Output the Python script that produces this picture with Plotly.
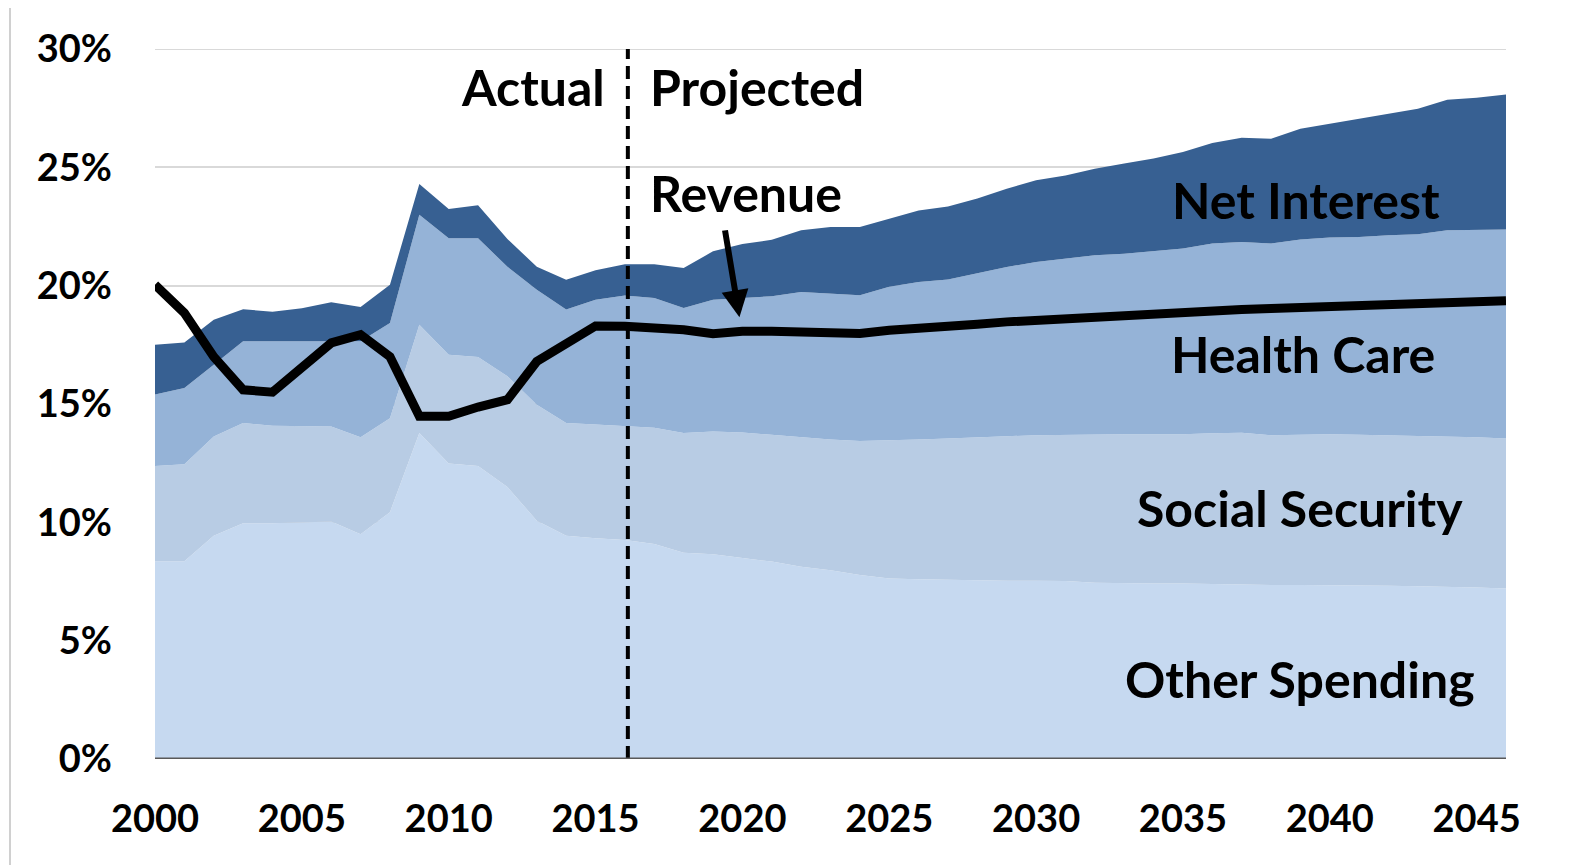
import plotly.graph_objects as go

years = list(range(2000, 2047))

# cumulative tops of each stacked layer (% of GDP)
other_top = [8.36, 8.36, 9.43, 9.96, 9.96, 10.0, 10.03, 9.5, 10.43, 13.77,
             12.49, 12.38, 11.49, 10.07, 9.43, 9.33, 9.25, 9.08, 8.72, 8.65,
             8.5, 8.34, 8.12, 7.98, 7.77, 7.63, 7.59, 7.56, 7.53, 7.53,
             7.53, 7.52, 7.45, 7.42, 7.42, 7.42, 7.39, 7.39, 7.35, 7.35,
             7.35, 7.33, 7.32, 7.3, 7.28, 7.25, 7.2]
ss_top = [12.38, 12.45, 13.63, 14.2, 14.08, 14.05, 14.05, 13.6, 14.4, 18.35,
          17.08, 16.99, 16.17, 14.97, 14.2, 14.13, 14.06, 14.0, 13.77, 13.84,
          13.8, 13.7, 13.6, 13.5, 13.44, 13.46, 13.5, 13.54, 13.6, 13.64,
          13.68, 13.7, 13.7, 13.72, 13.72, 13.72, 13.76, 13.78, 13.68, 13.7,
          13.72, 13.7, 13.68, 13.66, 13.64, 13.6, 13.54]
health_top = [15.4, 15.68, 16.66, 17.65, 17.65, 17.65, 17.65, 17.65, 18.42, 23.0,
              22.0, 22.0, 20.8, 19.83, 18.99, 19.4, 19.58, 19.48, 19.06, 19.4,
              19.48, 19.55, 19.73, 19.66, 19.6, 19.95, 20.16, 20.26, 20.51, 20.79,
              21.0, 21.14, 21.28, 21.35, 21.47, 21.57, 21.78, 21.85, 21.78, 21.95,
              22.03, 22.06, 22.13, 22.17, 22.34, 22.37, 22.37]
interest_top = [17.5, 17.6, 18.56, 19.0, 18.9, 19.05, 19.3, 19.1, 20.04, 24.3,
                23.24, 23.4, 21.97, 20.8, 20.25, 20.65, 20.9, 20.9, 20.75, 21.45,
                21.76, 21.94, 22.34, 22.48, 22.48, 22.83, 23.18, 23.35, 23.68, 24.1,
                24.45, 24.66, 24.94, 25.16, 25.37, 25.65, 26.03, 26.25, 26.21, 26.63,
                26.84, 27.06, 27.27, 27.48, 27.86, 27.94, 28.08]
revenue = [20.04, 18.85, 17.0, 15.6, 15.5, 16.6, 17.58, 17.93, 17.0, 14.48,
           14.48, 14.87, 15.18, 16.8, 17.58, 18.3, 18.28, 18.25, 18.14, 17.97,
           18.07, 18.07, 18.05, 17.98, 17.98, 18.12, 18.19, 18.23, 18.37, 18.47,
           18.54, 18.61, 18.71, 18.75, 18.82, 18.89, 18.93, 18.99, 19.03, 19.07,
           19.1, 19.13, 19.17, 19.21, 19.27, 19.31, 19.36]

layer_names = ["Other Spending", "Social Security", "Health Care", "Net Interest"]
layer_tops = [other_top, ss_top, health_top, interest_top]
layer_colors = ["#c6d9f0", "#b8cce4", "#95b3d7", "#376092"]

split_year = 2016.1
tick_years = [2000, 2005, 2010, 2015, 2020, 2025, 2030, 2035, 2040, 2045]
y_ticks = [0, 5, 10, 15, 20, 25, 30]
y_tick_text = ["0%", "5%", "10%", "15%", "20%", "25%", "30%"]

FONT = "Lato"

fig = go.Figure()

# 30% gridline (at top edge of the plot)
fig.add_shape(type="line", xref="x", yref="y", x0=2000, x1=2046, y0=30, y1=30,
              line=dict(color="#d9d9d9", width=2), layer="below")

for i, (name, tops, col) in enumerate(zip(layer_names, layer_tops, layer_colors)):
    fig.add_trace(go.Scatter(
        x=years, y=tops, name=name, mode="lines",
        line=dict(width=0, color=col),
        fill="tozeroy" if i == 0 else "tonexty",
        fillcolor=col, hoverinfo="skip", showlegend=False))

fig.add_trace(go.Scatter(x=years, y=revenue, name="Revenue", mode="lines",
                         line=dict(color="black", width=9), showlegend=False))

fig.add_shape(type="line", xref="x", yref="y", x0=split_year, x1=split_year,
              y0=0, y1=30, line=dict(color="black", width=4, dash="13px,7px"))

# image frame line on left
fig.add_shape(type="line", xref="paper", yref="paper",
              x0=(10 - 155) / 1351, x1=(10 - 155) / 1351,
              y0=-0.15, y1=1.06, line=dict(color="#d0d0d0", width=2))

def label(text, x, y, xanchor="center", size=50):
    fig.add_annotation(x=x, y=y, xref="x", yref="y", text=text, showarrow=False,
                       xanchor=xanchor, yanchor="middle",
                       font=dict(family=FONT, size=size, color="black", weight="bold"))

label("Actual", 2015.4, 28.4, xanchor="right")
label("Projected", 2016.8, 28.4, xanchor="left")
label("Revenue", 2016.8, 23.9, xanchor="left")
label("Net Interest", 2039.2, 23.6)
label("Health Care", 2039.1, 17.1)
label("Social Security", 2039.0, 10.6)
label("Other Spending", 2039.0, 3.4)

fig.add_annotation(x=2019.9, y=18.67, ax=2019.4, ay=22.4, xref="x", yref="y",
                   axref="x", ayref="y", text="", showarrow=True,
                   arrowhead=2, arrowsize=0.9, arrowwidth=6, arrowcolor="black")

# bottom axis line
fig.add_shape(type="line", xref="x", yref="y", x0=2000, x1=2046, y0=0, y1=0,
              line=dict(color="#595959", width=3))

# page body has an 8px margin; compensate so the plot lands where the reference has it
fig.update_layout(
    width=1583, height=857,
    margin=dict(l=147, r=85, t=41, b=106),
    paper_bgcolor="white", plot_bgcolor="white",
    font=dict(family=FONT, size=38, color="black"),
    xaxis=dict(range=[2000, 2046], tickvals=tick_years, showgrid=False,
               zeroline=False, showline=False, ticks="",
               tickfont=dict(family=FONT, size=38, color="black", weight="bold"),
               ticklabelstandoff=34),
    yaxis=dict(range=[0, 30], tickvals=y_ticks, ticktext=y_tick_text,
               showgrid=True, gridcolor="#d9d9d9", gridwidth=2,
               zeroline=False, showline=False, ticks="",
               tickfont=dict(family=FONT, size=38, color="black", weight="bold"),
               ticklabelstandoff=42),
)

fig.write_html("out.html")
